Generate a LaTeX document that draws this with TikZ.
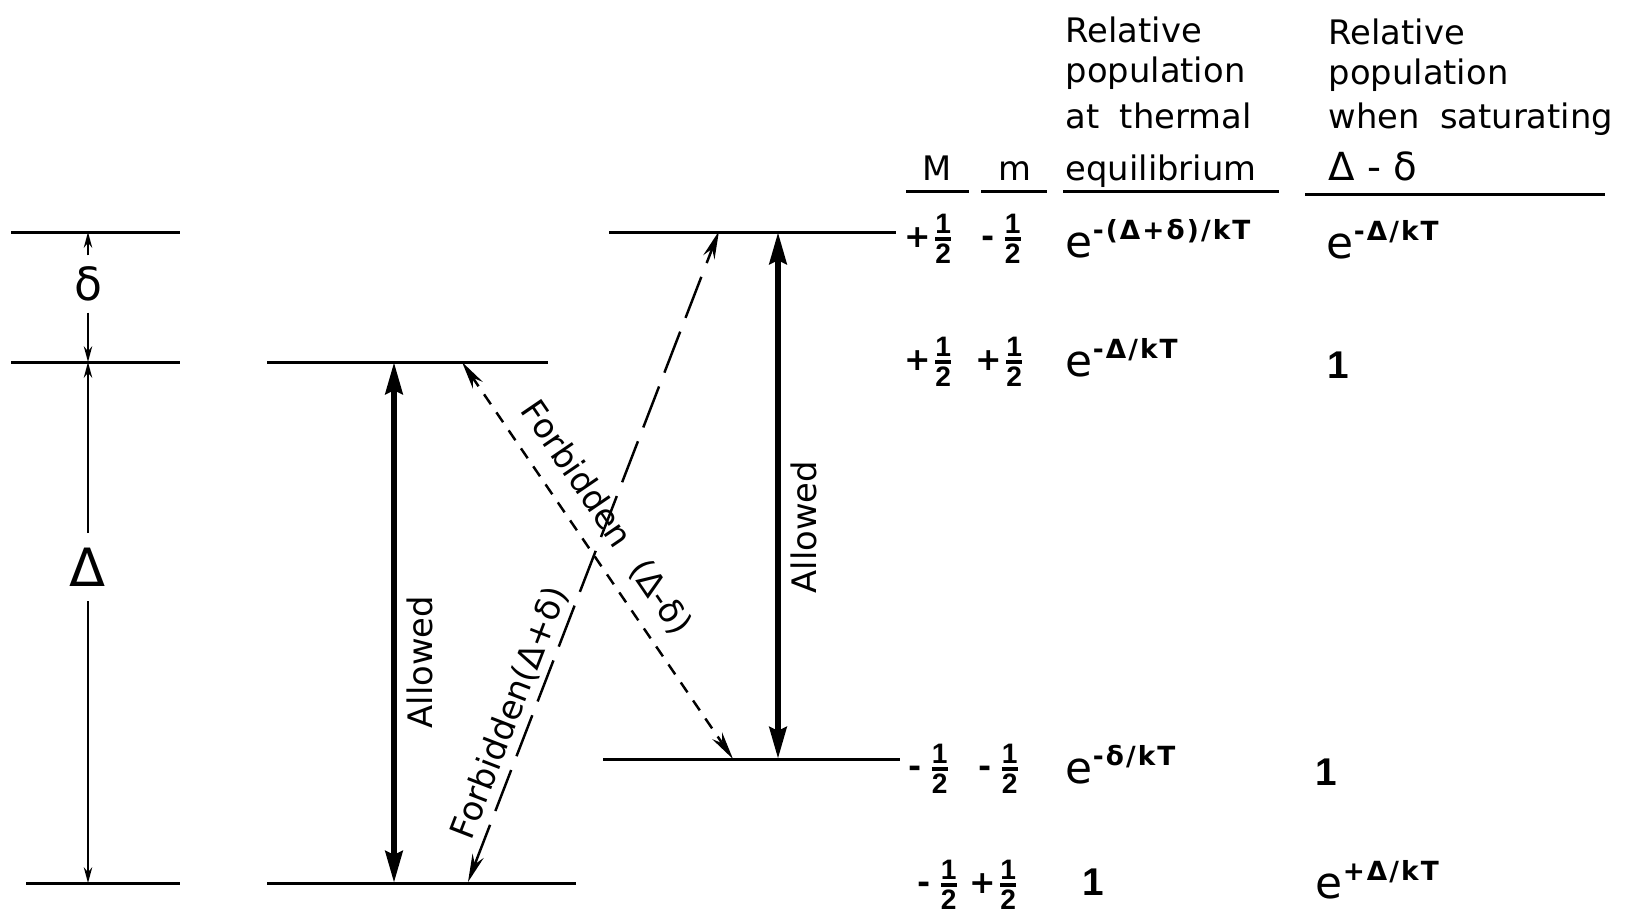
\documentclass[tikz,border=0pt]{standalone}
\usepackage{fontspec}
\setmainfont{DejaVu Sans}
\newfontfamily\expfont[LetterSpace=8]{DejaVu Sans}
\newfontfamily\digfont{Liberation Sans}
\usetikzlibrary{arrows.meta}
\newcommand{\fracdig}{\digfont\bfseries\fontsize{8}{8}\selectfont}
\newcommand{\half}{\ensuremath{{\hbox{\fracdig 1}\above 0.9pt\hbox{\fracdig 2}}}}
\newcommand{\sgn}[1]{{\bfseries\fontsize{9}{9}\selectfont #1}}
\newcommand{\one}{{\digfont\bfseries\fontsize{11}{11}\selectfont 1}}
\newcommand{\expo}[1]{{\fontsize{12.5}{12}\selectfont e}\raisebox{5pt}{\expfont\bfseries\fontsize{7.5}{8}\selectfont #1}}
\begin{document}
\begin{tikzpicture}[x=0.01cm,y=-0.01cm,
  level/.style={line width=0.85pt},
  thinarrow/.style={line width=0.55pt,-{Stealth[length=4.5pt,width=2.4pt]}},
  bigarrow/.style={line width=1.8pt,{Stealth[length=9pt,width=4.8pt,inset=1pt]}-{Stealth[length=9pt,width=4.8pt,inset=1pt]}},
  shortdash/.style={line width=0.7pt,dash pattern=on 3.4pt off 2.8pt,{Stealth[length=8pt,width=3.4pt]}-{Stealth[length=8pt,width=3.4pt]}},
  longdash/.style={line width=0.7pt,dash pattern=on 12.5pt off 4.2pt,{Stealth[length=8pt,width=3.4pt]}-{Stealth[length=8pt,width=3.4pt]}},
  txt/.style={font=\fontsize{9.6}{11}\selectfont,inner sep=0pt},
  cell/.style={inner sep=0pt,anchor=west},
  rule/.style={line width=0.85pt}]
\useasboundingbox (0,0) rectangle (1637,914);

% energy levels
\coordinate (L1a) at (11,232);  \coordinate (L1b) at (180,232);
\coordinate (L2a) at (11,362);  \coordinate (L2b) at (180,362);
\coordinate (L3a) at (26,883);  \coordinate (L3b) at (180,883);
\coordinate (M1a) at (267,362); \coordinate (M1b) at (548,362);
\coordinate (M2a) at (267,883); \coordinate (M2b) at (576,883);
\coordinate (R1a) at (609,232); \coordinate (R1b) at (896,232);
\coordinate (R2a) at (603,759); \coordinate (R2b) at (900,759);
\foreach \a/\b in {L1a/L1b,L2a/L2b,L3a/L3b,M1a/M1b,M2a/M2b,R1a/R1b,R2a/R2b}
  \draw[level] (\a) -- (\b);

% left dimension arrows
\coordinate (dtop) at (88,232);
\coordinate (dmid) at (88,362);
\coordinate (dbot) at (88,883);
\node[inner sep=3pt] (dl) at (88,284) {\fontsize{13}{13}\selectfont δ};
\node[inner sep=4pt] (Dl) at (88,567) {\fontsize{15}{15}\selectfont Δ};
\draw[thinarrow] (dl) -- (dtop);
\draw[thinarrow] (dl) -- (dmid);
\draw[thinarrow] (Dl) -- (dmid);
\draw[thinarrow] (Dl) -- (dbot);

% allowed transitions
\coordinate (A1t) at (394,362); \coordinate (A1b) at (394,883);
\coordinate (A2t) at (778,232); \coordinate (A2b) at (778,759);
\draw[bigarrow] (A1t) -- (A1b);
\draw[bigarrow] (A2t) -- (A2b);
\node[txt,rotate=90] (al1) at (420,662) {Allowed};
\node[txt,rotate=90] (al2) at (804,527) {Allowed};

% forbidden transitions
\coordinate (F1a) at (462,362); \coordinate (F1b) at (733,759);
\coordinate (F2a) at (468,882); \coordinate (F2b) at (719,231);
\draw[shortdash] (F1a) -- (F1b);
\draw[longdash] (F2a) -- (F2b);
\node[txt,rotate=-55.7] (fb1) at (606,518) {Forbidden\hspace{0.7em}(Δ-δ)};
\node[txt,rotate=68.9] (fb2) at (510,713) {Forbidden(Δ+δ)};

% table header
\node[txt,anchor=base] (hM) at (937,180) {M};
\node[txt,anchor=base] (hm) at (1015,180) {m};
\node[txt,anchor=base west] (h1a) at (1065,42) {Relative};
\node[txt,anchor=base west] (h1b) at (1065,82) {population};
\node[txt,anchor=base west] (h1c) at (1065,128) {at\hspace{0.6em}thermal};
\node[txt,anchor=base west] (h1d) at (1065,180) {equilibrium};
\node[txt,anchor=base west] (h2a) at (1328,44) {Relative};
\node[txt,anchor=base west] (h2b) at (1328,84) {population};
\node[txt,anchor=base west] (h2c) at (1328,128) {when\hspace{0.6em}saturating};
\node[txt,anchor=base west] (h2d) at (1328,180) {\fontsize{11}{11}\selectfont Δ - δ};
\coordinate (u1a) at (906,191);  \coordinate (u1b) at (969,191);
\coordinate (u2a) at (981,191);  \coordinate (u2b) at (1047,191);
\coordinate (u3a) at (1063,191); \coordinate (u3b) at (1279,191);
\coordinate (u4a) at (1305,194); \coordinate (u4b) at (1605,194);
\foreach \a/\b in {u1a/u1b,u2a/u2b,u3a/u3b,u4a/u4b}
  \draw[rule] (\a) -- (\b);

% quantum numbers
\node[cell] (q1M) at (904,239) {\sgn{+}\half};
\node[cell] (q1m) at (981,239) {\sgn{-}\,\half};
\node[cell] (q2M) at (904,362) {\sgn{+}\half};
\node[cell] (q2m) at (975,362) {\sgn{+}\half};
\node[cell] (q3M) at (908,769) {\sgn{-}\,\half};
\node[cell] (q3m) at (978,769) {\sgn{-}\,\half};
\node[cell] (q4M) at (917,885) {\sgn{-}\,\half};
\node[cell] (q4m) at (969,885) {\sgn{+}\half};

% populations
\node[inner sep=0pt,anchor=base west] (p1a) at (1065,257) {\expo{-(Δ+δ)/kT}};
\node[inner sep=0pt,anchor=base west] (p1b) at (1326,258) {\expo{-Δ/kT}};
\node[inner sep=0pt,anchor=base west] (p2a) at (1065,376) {\expo{-Δ/kT}};
\node[inner sep=0pt] (p2b) at (1338,365) {\one};
\node[inner sep=0pt,anchor=base west] (p3a) at (1065,783) {\expo{-δ/kT}};
\node[inner sep=0pt] (p3b) at (1326,772) {\one};
\node[inner sep=0pt] (p4a) at (1093,882) {\one};
\node[inner sep=0pt,anchor=base west] (p4b) at (1315,898) {\expo{+Δ/kT}};
\end{tikzpicture}
\end{document}
